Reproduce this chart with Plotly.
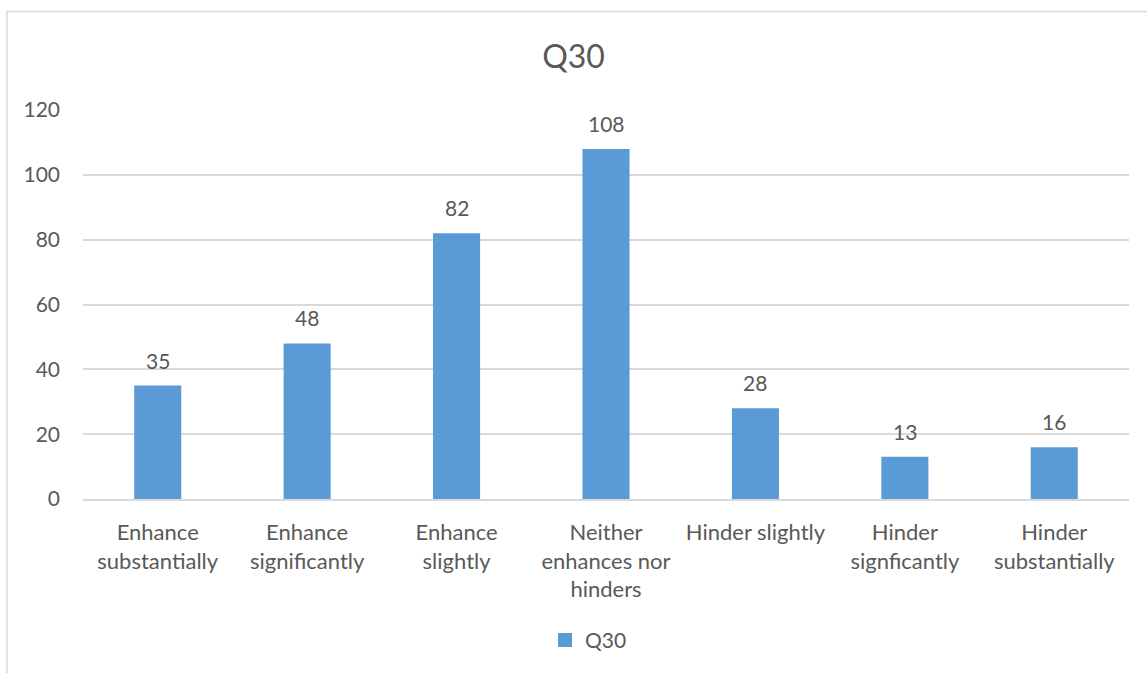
import plotly.graph_objects as go

categories = ["Enhance<br>substantially", "Enhance<br>significantly", "Enhance<br>slightly",
              "Neither<br>enhances nor<br>hinders", "Hinder slightly", "Hinder<br>signficantly",
              "Hinder<br>substantially"]
values = [35, 48, 82, 108, 28, 13, 16]
series_name = "Q30"
y_ticks = [0, 20, 40, 60, 80, 100, 120]

W, H = 1147, 673
L, R, T, B = 83, 18, 110, 172
pw, ph = W - L - R, H - T - B

TXT = "#595959"
BLUE = "#5B9BD5"
FONT = "Lato"

fig = go.Figure()
fig.add_trace(go.Bar(x=categories, y=values, name=series_name,
                     marker=dict(color=BLUE, line=dict(width=0)),
                     showlegend=False))
# legend entry with a larger square symbol
fig.add_trace(go.Scatter(x=[categories[0]], y=[None], mode="markers", name=series_name,
                         marker=dict(symbol="square", size=14, color=BLUE),
                         showlegend=True, hoverinfo="skip"))

for c, v in zip(categories, values):
    fig.add_annotation(x=c, y=v, text=str(v), showarrow=False, yanchor="bottom",
                       yshift=11, font=dict(size=21, color=TXT, family=FONT))

def px_x(p):
    return (p - L) / pw

def px_y(p):
    return (H - B - p) / ph

fig.add_shape(type="rect", xref="paper", yref="paper",
              x0=px_x(7), x1=px_x(1160), y0=px_y(690), y1=px_y(11),
              line=dict(color="#d9d9d9", width=1.5), fillcolor="rgba(0,0,0,0)", layer="below")

fig.update_layout(
    width=W, height=H,
    margin=dict(l=L, r=R, t=T, b=B, pad=0),
    paper_bgcolor="white", plot_bgcolor="white",
    font=dict(family=FONT, color=TXT, size=21),
    title=dict(text="Q30", x=0.5, xanchor="center", xref="container",
               y=1 - 57 / H, yanchor="middle", yref="container",
               font=dict(size=32, color=TXT, family=FONT)),
    bargap=0.685,
    xaxis=dict(showgrid=False, showline=True, linecolor="#d9d9d9", linewidth=1.5,
               ticks="", tickfont=dict(size=22, color=TXT), ticklabelstandoff=13),
    yaxis=dict(range=[0, 120], tickvals=y_ticks, showgrid=True, gridcolor="#d9d9d9",
               gridwidth=1.5, zeroline=False, showline=False, ticks="",
               tickfont=dict(size=21, color=TXT), ticklabelstandoff=22),
    legend=dict(orientation="h", x=px_x(545), xanchor="left", y=px_y(643), yanchor="middle",
                font=dict(size=21, color=TXT), itemwidth=30),
)

fig.write_html("out.html")
